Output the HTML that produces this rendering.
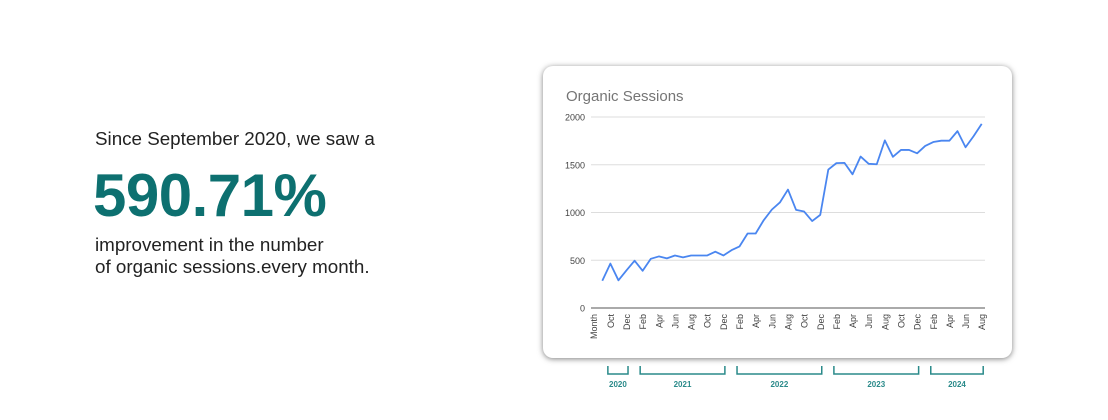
<!DOCTYPE html>
<html><head><meta charset="utf-8">
<style>
body{margin:0;width:1108px;height:420px;background:#fff;position:relative;overflow:hidden;font-family:"Liberation Sans",sans-serif;}
.t{position:absolute;left:95px;color:#222;font-size:18.8px;white-space:nowrap;}
#big{position:absolute;left:93px;top:161px;font-size:60px;font-weight:bold;color:#0d7070;letter-spacing:-0.5px;}
#card{position:absolute;left:543px;top:66px;width:469px;height:292px;border-radius:10px;background:#fff;box-shadow:0 1px 6px rgba(0,0,0,0.5);}
svg{position:absolute;left:0;top:0;}
</style></head><body>
<div class="t" style="top:128px;">Since September 2020, we saw a</div>
<div id="big">590.71%</div>
<div class="t" style="top:234px;">improvement in the number</div>
<div class="t" style="top:256px;">of organic sessions.every month.</div>
<div id="card"></div>
<svg id="chart" width="1108" height="420"></svg>
<script>
const values=[285,465,290,395,495,390,515,540,520,550,530,550,550,550,590,550,605,645,780,780,920,1030,1105,1240,1028,1010,910,975,1450,1517,1520,1400,1586,1510,1505,1755,1583,1655,1655,1620,1697,1738,1752,1752,1852,1683,1800,1928];
const yTicks=[0,500,1000,1500,2000];
const monthLabels=["Oct","Dec","Feb","Apr","Jun","Aug","Oct","Dec","Feb","Apr","Jun","Aug","Oct","Dec","Feb","Apr","Jun","Aug","Oct","Dec","Feb","Apr","Jun","Aug"];
const years=["2020","2021","2022","2023","2024"];
const yearStart=[1,5,17,29,41];
const yearEnd=[3,15,27,39,47];
const NS="http://www.w3.org/2000/svg";
const svg=document.getElementById('chart');
const x0=602.3,x1=981.7,y0=308,y1=117;
const xs=i=>x0+(x1-x0)*i/(values.length-1);
const ys=v=>y0+(y1-y0)*v/2000;
function mk(tag,attrs,parent){const e=document.createElementNS(NS,tag);for(const k in attrs)e.setAttribute(k,attrs[k]);(parent||svg).appendChild(e);return e;}
let t=mk('text',{x:566,y:101,'font-size':15,fill:'#757575'});


t.textContent='Organic Sessions';
yTicks.forEach(v=>{
 const l=mk('line',{x1:591,x2:985,y1:ys(v),y2:ys(v),stroke:v===0?'#555':'#ddd','stroke-width':1});
 
 
 const tx=mk('text',{x:585,y:ys(v)+3.5,'font-size':9,fill:'#444','text-anchor':'end'});
 
 
 tx.textContent=v;
});
let ml=mk('text',{transform:`translate(${597},${314}) rotate(-90)`,'font-size':9,fill:'#444','text-anchor':'end'});


ml.textContent='Month';
monthLabels.forEach((m,k)=>{
 const i=1+2*k;
 const tx=mk('text',{transform:`translate(${xs(i)+3.5},${314}) rotate(-90)`,'font-size':9,fill:'#444','text-anchor':'end'});
 
 
 tx.textContent=m;
});
const p=mk('polyline',{points:values.map((v,i)=>xs(i)+','+ys(v)).join(' '),fill:'none',stroke:'#4a86f0','stroke-width':1.8,'stroke-linejoin':'round'});


years.forEach((y,k)=>{
 const a=xs(yearStart[k])-2.5,b=xs(yearEnd[k])+1.5;
 const br=mk('path',{d:`M${a},366 V374 H${b} V366`,fill:'none',stroke:'#2a8a8a','stroke-width':1.5});
 
 
 const tx=mk('text',{x:(a+b)/2,y:387,'font-size':8,'font-weight':'bold',fill:'#2a8a8a','text-anchor':'middle'});
 
 
 tx.textContent=y;
});
</script>
</body></html>
